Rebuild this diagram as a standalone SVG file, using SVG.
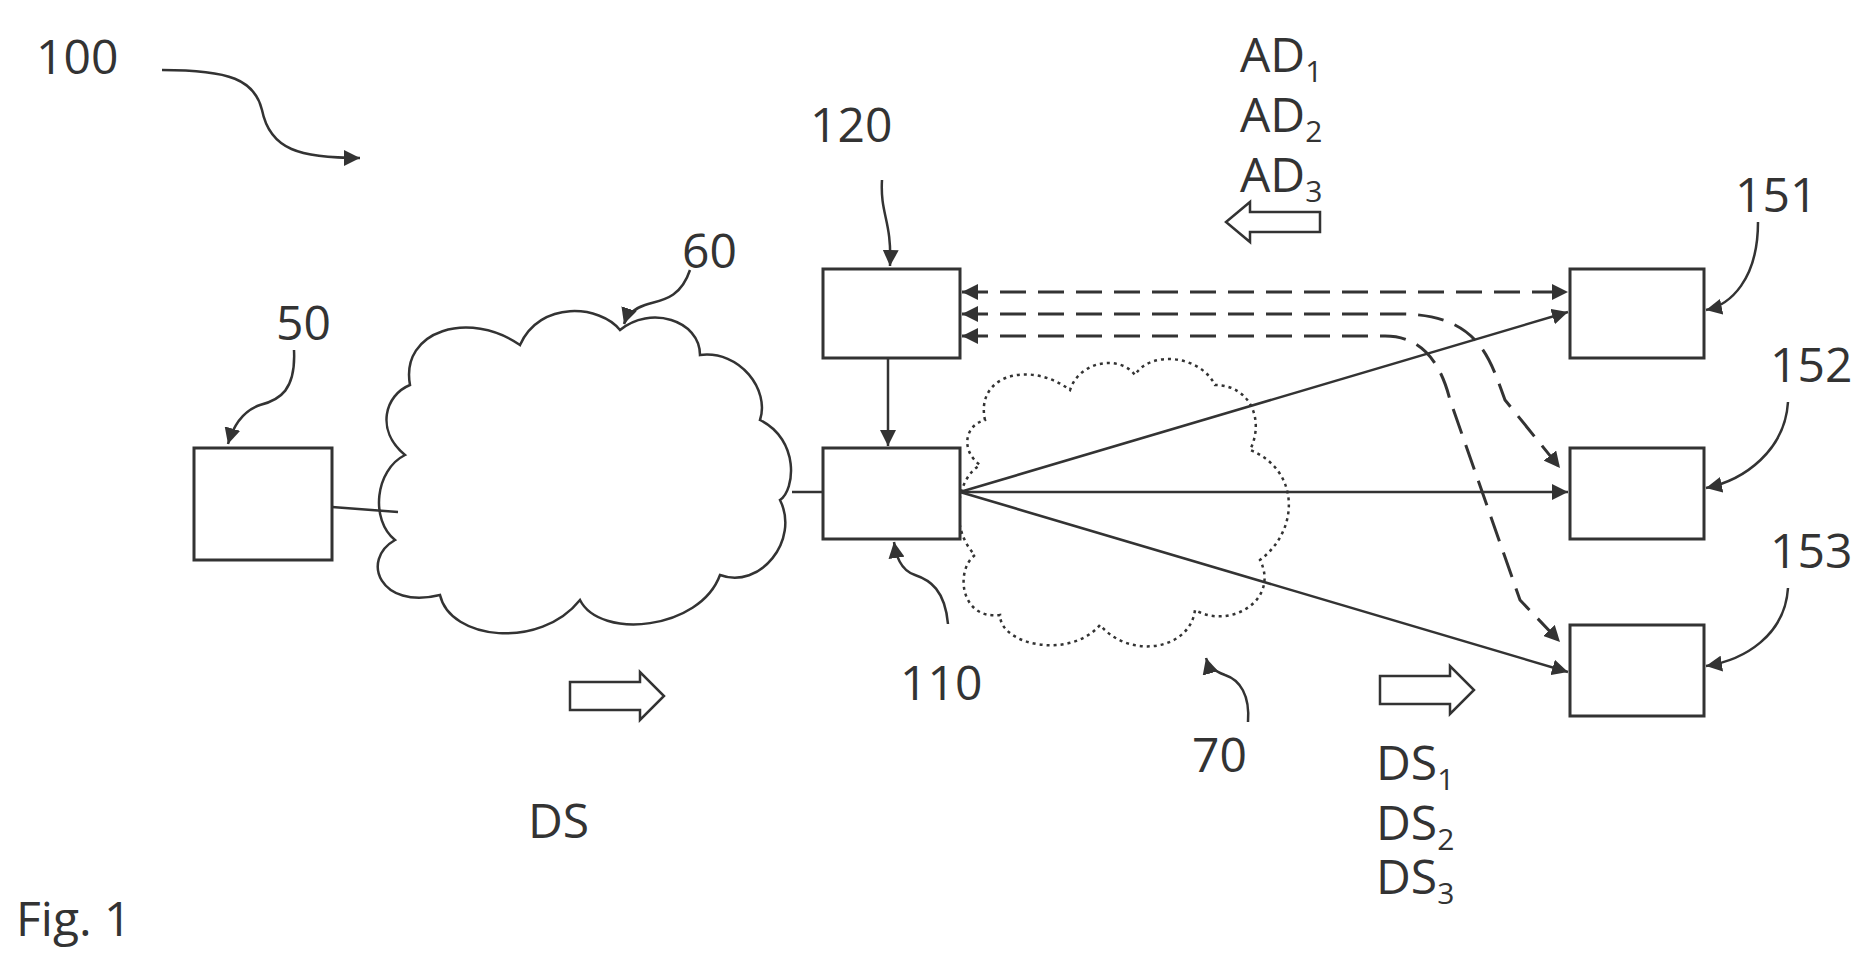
<svg xmlns="http://www.w3.org/2000/svg" width="1870" height="959" viewBox="0 0 1870 959">
<style>
.b{fill:#fff;stroke:#333;stroke-width:3}
.l{fill:none;stroke:#333;stroke-width:2.5}
.d{fill:none;stroke:#333;stroke-width:3;stroke-dasharray:26,12}
.t{font-family:"Open Sans",sans-serif;font-size:48px;fill:#333}
.s{font-size:30px}
</style>
<defs>
<marker id="a" viewBox="0 0 10 10" refX="10" refY="5" markerWidth="16" markerHeight="16" markerUnits="userSpaceOnUse" orient="auto-start-reverse"><path d="M0,0L10,5L0,10z" fill="#333"/></marker>
</defs>
<rect width="1870" height="959" fill="#fff"/>
<g id="cloud60"><path class="l" d="M410,385 C400,330 470,310 520,345 C540,300 600,305 620,330 C650,305 700,320 700,355 C740,350 770,390 760,420 C800,440 795,490 780,500 C800,540 760,590 720,575 C700,630 600,640 580,600 C540,650 450,640 440,595 C380,610 360,560 395,540 C370,520 375,470 405,455 C375,430 385,395 410,385 Z"/></g>
<g id="cloud70"><path class="l" stroke-dasharray="3,4" d="M985,420 C975,375 1030,360 1070,390 C1080,360 1120,355 1135,375 C1150,350 1200,355 1215,385 C1250,385 1265,420 1250,450 C1300,470 1300,530 1260,560 C1280,600 1230,630 1195,610 C1190,650 1130,660 1100,625 C1070,660 1000,645 1000,615 C960,620 955,570 975,555 C950,530 955,480 980,465 C960,450 965,425 985,420 Z"/></g>
<g id="n50"><rect class="b" x="194" y="448" width="138" height="112"/></g>
<g id="n120"><rect class="b" x="823" y="269" width="137" height="89"/></g>
<g id="n110"><rect class="b" x="823" y="448" width="137" height="91"/></g>
<g id="n151"><rect class="b" x="1570" y="269" width="134" height="89"/></g>
<g id="n152"><rect class="b" x="1570" y="448" width="134" height="91"/></g>
<g id="n153"><rect class="b" x="1570" y="625" width="134" height="91"/></g>
<g id="connectors">
<path class="l" d="M332,507 L398,512"/>
<path class="l" d="M792,492 L823,492"/>
<path class="l" d="M888,358 L888,446" marker-end="url(#a)"/>
<path class="l" d="M960,492 L1568,312" marker-end="url(#a)"/>
<path class="l" d="M960,492 L1568,492" marker-end="url(#a)"/>
<path class="l" d="M960,492 L1568,672" marker-end="url(#a)"/>
<path class="d" d="M962,292 L1568,292" marker-start="url(#a)" marker-end="url(#a)"/>
<path class="d" d="M962,314 L1400,314 C1480,314 1490,360 1505,400 L1560,468" marker-start="url(#a)" marker-end="url(#a)"/>
<path class="d" d="M962,336 L1385,336 C1420,336 1440,360 1450,400 L1520,600 L1560,642" marker-start="url(#a)" marker-end="url(#a)"/>
<path class="l" d="M162,70 C230,70 255,80 262,110 C270,150 300,158 360,158" marker-end="url(#a)"/>
<path class="l" d="M690,270 C680,300 660,300 645,305 C630,310 626,318 624,324" marker-end="url(#a)"/>
<path class="l" d="M294,350 C296,390 280,400 260,405 C240,412 232,430 228,444" marker-end="url(#a)"/>
<path class="l" d="M882,180 C880,215 892,220 890,266" marker-end="url(#a)"/>
<path class="l" d="M948,624 C945,590 930,580 915,575 C900,570 896,555 894,542" marker-end="url(#a)"/>
<path class="l" d="M1248,722 C1250,695 1240,680 1225,675 C1212,670 1208,665 1206,658" marker-end="url(#a)"/>
<path class="l" d="M1758,222 C1758,280 1730,305 1706,310" marker-end="url(#a)"/>
<path class="l" d="M1788,402 C1785,450 1745,480 1706,488" marker-end="url(#a)"/>
<path class="l" d="M1788,588 C1785,635 1745,660 1706,666" marker-end="url(#a)"/>
<path class="l" d="M1320,212 L1320,232 L1250,232 L1250,242 L1226,222 L1250,202 L1250,212 Z"/>
<path class="l" d="M570,682 L640,682 L640,672 L664,696 L640,720 L640,710 L570,710 Z"/>
<path class="l" d="M1380,676 L1450,676 L1450,666 L1474,690 L1450,714 L1450,704 L1380,704 Z"/>
</g>
<g class="t">
<text x="36" y="74">100</text>
<text x="682" y="268">60</text>
<text x="276" y="340">50</text>
<text x="810" y="142">120</text>
<text x="900" y="700">110</text>
<text x="1192" y="772">70</text>
<text x="1735" y="212">151</text>
<text x="1770" y="382">152</text>
<text x="1770" y="568">153</text>
<text x="1240" y="72">AD<tspan class="s" dy="10">1</tspan></text>
<text x="1240" y="132">AD<tspan class="s" dy="10">2</tspan></text>
<text x="1240" y="192">AD<tspan class="s" dy="10">3</tspan></text>
<text x="528" y="838">DS</text>
<text x="1376" y="780">DS<tspan class="s" dy="10">1</tspan></text>
<text x="1376" y="840">DS<tspan class="s" dy="10">2</tspan></text>
<text x="1376" y="894">DS<tspan class="s" dy="10">3</tspan></text>
<text x="16" y="936">Fig. 1</text>
</g>
</svg>
